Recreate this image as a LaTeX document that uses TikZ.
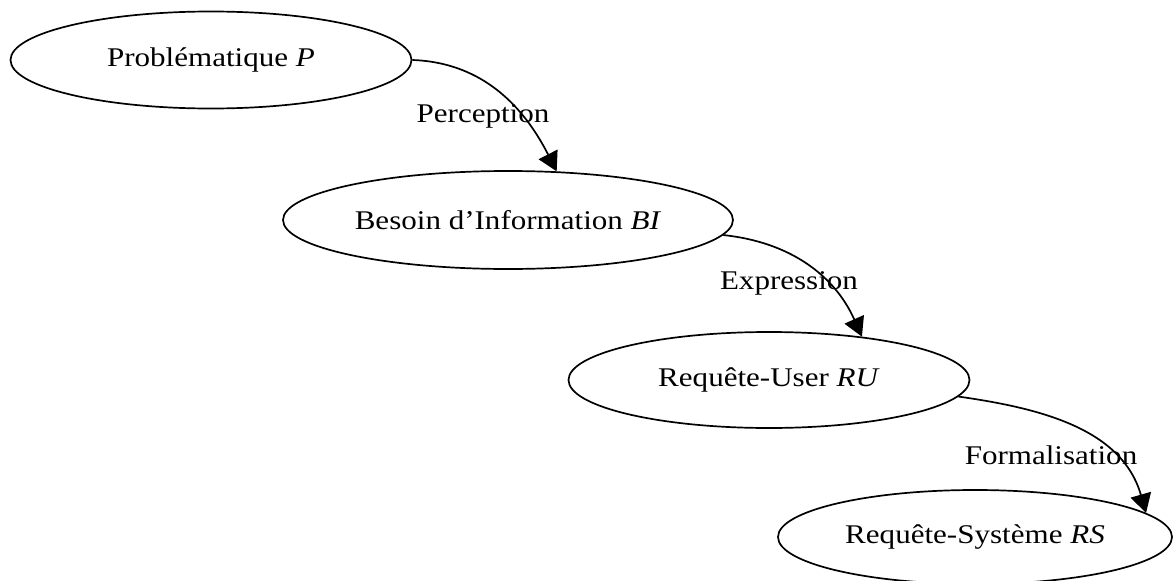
\documentclass[tikz,border=0pt]{standalone}
\usepackage{fontspec}
\setmainfont{Liberation Serif}[FakeStretch=1.15]
\usepackage{tikz}
\usetikzlibrary{shapes.geometric}
\usetikzlibrary{arrows.meta}
\tikzstyle{NodeEllipse}=[ellipse,draw,line width=1.7pt,inner sep=0pt,
font=\fontsize{27}{32}\selectfont]
\tikzstyle{EdgeArrow}=[line width=1.7pt,-{Triangle[length=19pt,width=21pt]}]
\tikzstyle{LabelEdge}=[inner sep=0pt,font=\fontsize{27}{32}\selectfont]

\begin{document}
\begin{tikzpicture}[x=1pt,y=-1pt]
        \useasboundingbox(0,0)rectangle(1173,581);
        \node[NodeEllipse,minimum width=401pt,minimum height=97pt](p)at(211,60){Problématique \textit{P}};
        \node[NodeEllipse,minimum width=450pt,minimum height=98pt](bi)at(508,220){Besoin d’Information \textit{BI}};
        \node[NodeEllipse,minimum width=401pt,minimum height=96pt](ru)at(769,380){Requête-User \textit{RU}};
        \node[NodeEllipse,minimum width=394pt,minimum height=94pt](rs)at(975,537){Requête-Système \textit{RS}};
        \node[LabelEdge](perc)at(483,116){Perception};
        \node[LabelEdge](expr)at(789,283){Expression};
        \node[LabelEdge](form)at(1051,455){Formalisation};
        \draw[EdgeArrow](p.east)to[out=-2,in=117](bi.45);
        \draw[EdgeArrow](bi.-4)to[out=-6,in=114](ru.25);
        \draw[EdgeArrow](ru.-5)to[out=-8,in=106](rs.8);
    \end{tikzpicture}
\end{document}
